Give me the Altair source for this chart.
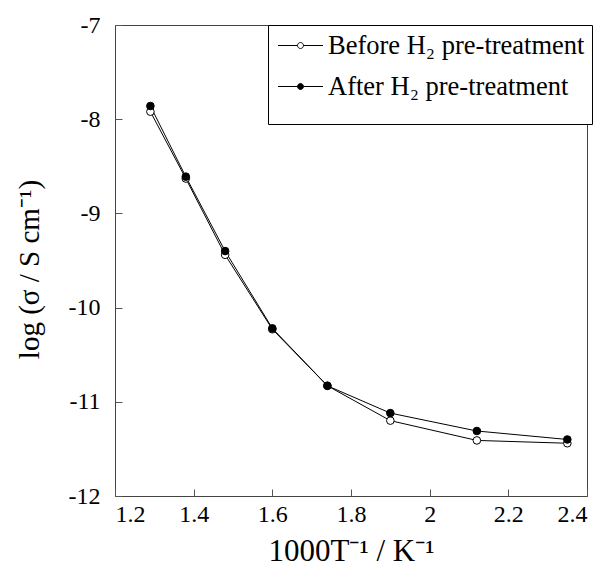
import altair as alt
import pandas as pd

x_vals = [1.29, 1.38, 1.48, 1.60, 1.74, 1.90, 2.12, 2.35]
before_vals = [-7.92, -8.63, -9.44, -10.23, -10.83, -11.20, -11.41, -11.44]
after_vals = [-7.86, -8.61, -9.40, -10.22, -10.83, -11.12, -11.31, -11.40]
series_names = ["Before H\u2082 pre-treatment", "After H\u2082 pre-treatment"]
x_ticks = [1.2, 1.4, 1.6, 1.8, 2.0, 2.2, 2.4]
y_ticks = [-12, -11, -10, -9, -8, -7]

rows = []
for xv, yv in zip(x_vals, before_vals):
    rows.append({"x": xv, "y": yv, "series": series_names[0]})
for xv, yv in zip(x_vals, after_vals):
    rows.append({"x": xv, "y": yv, "series": series_names[1]})
df = pd.DataFrame(rows)

FONT = "Liberation Serif"

xenc = alt.X("x:Q", scale=alt.Scale(domain=[1.2, 2.4], nice=False, zero=False),
             axis=alt.Axis(values=x_ticks, labelExpr="'' + datum.value", grid=False,
                           domain=False, offset=-7, tickSize=7, tickColor="#555",
                           labelPadding=6, labelFont=FONT, labelFontSize=24,
                           labelColor="black", title="1000T\u207b\u00b9 / K\u207b\u00b9",
                           titleFont=FONT, titleFontSize=31, titleFontWeight="normal",
                           titleColor="black", titlePadding=10))
yenc = alt.Y("y:Q", scale=alt.Scale(domain=[-12, -7], nice=False, zero=False),
             axis=alt.Axis(values=y_ticks, labelExpr="'' + datum.value", grid=False,
                           domain=False, offset=-7, tickSize=7, tickColor="#555",
                           labelPadding=15, labelFont=FONT, labelFontSize=24,
                           labelColor="black", title="log (\u03c3 / S cm\u207b\u00b9)",
                           titleFont=FONT, titleFontSize=29, titleFontWeight="normal",
                           titleColor="black", titlePadding=24, titleY=244))

lines = alt.Chart(df).mark_line(strokeWidth=1, color="black").encode(
    x=xenc, y=yenc, detail="series:N"
)

sym_path = ("M -1.73 0 L -0.23 0 M 0.23 0 L 1.73 0 "
            "M -0.23 0 A 0.23 0.23 0 1 0 0.23 0 A 0.23 0.23 0 1 0 -0.23 0 Z")

points = alt.Chart(df).mark_point(filled=True, stroke="black", strokeWidth=1,
                                  opacity=1, size=58).encode(
    x=xenc, y=yenc,
    fill=alt.Fill("series:N",
                  scale=alt.Scale(domain=series_names, range=["white", "black"]),
                  legend=alt.Legend(title=" ", titleOrient="bottom", titleFontSize=10,
                                    titlePadding=7, orient="none", legendX=153, legendY=0,
                                    strokeColor="black", padding=7, symbolOffset=12,
                                    symbolType=sym_path, symbolSize=676,
                                    symbolStrokeColor="black", symbolStrokeWidth=1,
                                    labelFont=FONT, labelFontSize=26.5, labelColor="black",
                                    labelOffset=14, labelLimit=0, rowPadding=14,
                                    fillColor="white")),
    order=alt.Order("series:N", sort="descending"),
)

chart = alt.layer(lines, points).properties(
    width=472, height=471,
    autosize=alt.AutoSizeParams(type="none"),
    padding={"left": 107, "top": 17, "right": 10, "bottom": 72},
).configure_view(stroke="#444", strokeWidth=1).configure_axis(
    labelFont=FONT, titleFont=FONT
).configure_legend(labelFont=FONT)

chart.save("out.html", embed_options={"renderer": "svg", "actions": False})
